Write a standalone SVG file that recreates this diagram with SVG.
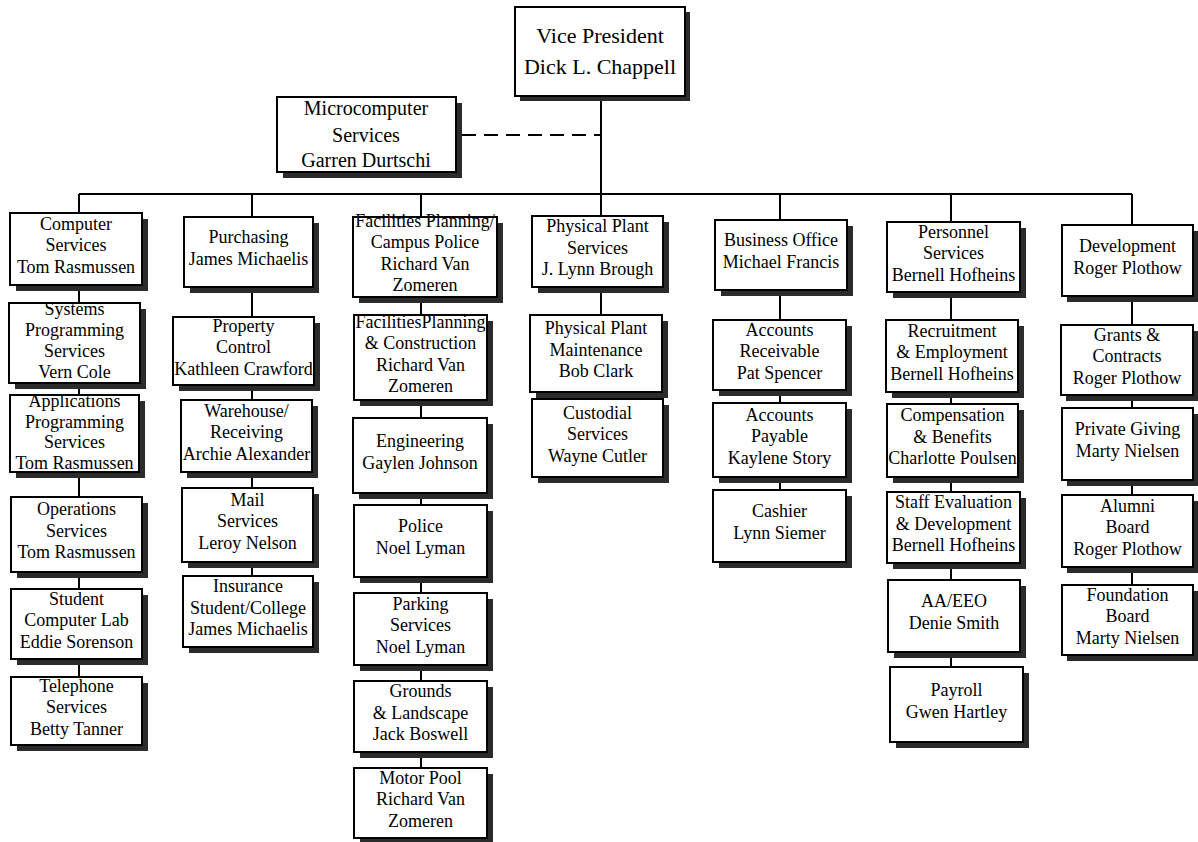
<svg xmlns="http://www.w3.org/2000/svg" width="1198" height="842" viewBox="0 0 1198 842">
<style>
.sh{fill:#2b2b2b}
.bx{fill:#fff;stroke:#000;stroke-width:2}
text{font-family:"Liberation Serif","Times New Roman",serif;font-size:18px;fill:#000;text-anchor:middle}
.big{font-size:22px}
.mid{font-size:20px}
.ln{stroke:#000;stroke-width:2;fill:none}
.dash{stroke:#000;stroke-width:2;fill:none;stroke-dasharray:14 8}
</style>
<rect width="1198" height="842" fill="#fff"/>
<g id="connectors">
<line class="ln" x1="601" y1="96" x2="601" y2="399"/>
<line class="dash" x1="462" y1="135" x2="601" y2="135"/>
<line class="ln" x1="79" y1="194" x2="1132" y2="194"/>
<line class="ln" x1="79" y1="194" x2="79" y2="677"/>
<line class="ln" x1="252" y1="194" x2="252" y2="576"/>
<line class="ln" x1="421" y1="194" x2="421" y2="768"/>
<line class="ln" x1="780" y1="194" x2="780" y2="490"/>
<line class="ln" x1="951" y1="194" x2="951" y2="667"/>
<line class="ln" x1="1132" y1="194" x2="1132" y2="585"/>
</g>
<g id="vp"><rect class="sh" x="520" y="12" width="170" height="89"/><rect class="bx" x="515" y="7" width="170" height="89"/><text class="big" x="600" y="43">Vice President</text><text class="big" x="600" y="74">Dick L. Chappell</text></g>
<g id="micro"><rect class="sh" x="283" y="103" width="179" height="75"/><rect class="bx" x="277" y="97" width="179" height="75"/><text class="mid" x="366" y="115">Microcomputer</text><text class="mid" x="366" y="142">Services</text><text class="mid" x="366" y="167">Garren Durtschi</text></g>

<g id="cs"><rect class="sh" x="16" y="219" width="132" height="72"/><rect class="bx" x="10" y="213" width="132" height="72"/><text x="76" y="229.5">Computer</text><text x="76" y="251">Services</text><text x="76" y="272.5">Tom Rasmussen</text></g>
<g id="sps"><rect class="sh" x="15" y="309" width="131" height="80"/><rect class="bx" x="9" y="303" width="131" height="80"/><text x="74.5" y="315">Systems</text><text x="74.5" y="336">Programming</text><text x="74.5" y="357">Services</text><text x="74.5" y="378">Vern Cole</text></g>
<g id="aps"><rect class="sh" x="16" y="401" width="129" height="77"/><rect class="bx" x="10" y="395" width="129" height="77"/><text x="74.5" y="407">Applications</text><text x="74.5" y="427.5">Programming</text><text x="74.5" y="448">Services</text><text x="74.5" y="468.5">Tom Rasmussen</text></g>
<g id="ops"><rect class="sh" x="17" y="503" width="131" height="75"/><rect class="bx" x="11" y="497" width="131" height="75"/><text x="76.5" y="515">Operations</text><text x="76.5" y="536.5">Services</text><text x="76.5" y="558">Tom Rasmussen</text></g>
<g id="scl"><rect class="sh" x="17" y="595" width="131" height="70"/><rect class="bx" x="11" y="589" width="131" height="70"/><text x="76.5" y="604.5">Student</text><text x="76.5" y="626">Computer Lab</text><text x="76.5" y="647.5">Eddie Sorenson</text></g>
<g id="tel"><rect class="sh" x="17" y="683" width="131" height="68"/><rect class="bx" x="11" y="677" width="131" height="68"/><text x="76.5" y="691.5">Telephone</text><text x="76.5" y="713">Services</text><text x="76.5" y="734.5">Betty Tanner</text></g>

<g id="pur"><rect class="sh" x="190" y="223" width="129" height="70"/><rect class="bx" x="184" y="217" width="129" height="70"/><text x="248.5" y="243">Purchasing</text><text x="248.5" y="265">James Michaelis</text></g>
<g id="prop"><rect class="sh" x="179" y="323" width="141" height="68"/><rect class="bx" x="173" y="317" width="141" height="68"/><text x="243.5" y="331.5">Property</text><text x="243.5" y="353">Control</text><text x="243.5" y="374.5">Kathleen Crawford</text></g>
<g id="wh"><rect class="sh" x="187" y="406" width="131" height="72"/><rect class="bx" x="181" y="400" width="131" height="72"/><text x="246.5" y="416.5">Warehouse/</text><text x="246.5" y="438">Receiving</text><text x="246.5" y="459.5">Archie Alexander</text></g>
<g id="mail"><rect class="sh" x="188" y="494" width="131" height="74"/><rect class="bx" x="182" y="488" width="131" height="74"/><text x="247.5" y="505.5">Mail</text><text x="247.5" y="527">Services</text><text x="247.5" y="548.5">Leroy Nelson</text></g>
<g id="ins"><rect class="sh" x="189" y="582" width="130" height="71"/><rect class="bx" x="183" y="576" width="130" height="71"/><text x="248" y="592">Insurance</text><text x="248" y="613.5">Student/College</text><text x="248" y="635">James Michaelis</text></g>

<g id="fpcp"><rect class="sh" x="359" y="223" width="144" height="80"/><rect class="bx" x="353" y="217" width="144" height="80"/><text x="425" y="227">Facilities Planning/</text><text x="425" y="248">Campus Police</text><text x="425" y="270">Richard Van</text><text x="425" y="291">Zomeren</text></g>
<g id="fpc"><rect class="sh" x="360" y="321" width="133" height="85"/><rect class="bx" x="354" y="315" width="133" height="85"/><text x="420.5" y="327.5">FacilitiesPlanning</text><text x="420.5" y="348.5">&amp; Construction</text><text x="420.5" y="370.5">Richard Van</text><text x="420.5" y="391.5">Zomeren</text></g>
<g id="eng"><rect class="sh" x="359" y="424" width="134" height="75"/><rect class="bx" x="353" y="418" width="134" height="75"/><text x="420" y="446.5">Engineering</text><text x="420" y="468.5">Gaylen Johnson</text></g>
<g id="pol"><rect class="sh" x="360" y="511" width="133" height="72"/><rect class="bx" x="354" y="505" width="133" height="72"/><text x="420.5" y="532">Police</text><text x="420.5" y="554">Noel Lyman</text></g>
<g id="park"><rect class="sh" x="360" y="599" width="133" height="72"/><rect class="bx" x="354" y="593" width="133" height="72"/><text x="420.5" y="609.5">Parking</text><text x="420.5" y="631">Services</text><text x="420.5" y="652.5">Noel Lyman</text></g>
<g id="grd"><rect class="sh" x="360" y="687" width="133" height="71"/><rect class="bx" x="354" y="681" width="133" height="71"/><text x="420.5" y="697">Grounds</text><text x="420.5" y="718.5">&amp; Landscape</text><text x="420.5" y="740">Jack Boswell</text></g>
<g id="mp"><rect class="sh" x="360" y="774" width="133" height="68"/><rect class="bx" x="354" y="768" width="133" height="70"/><text x="420.5" y="783.5">Motor Pool</text><text x="420.5" y="805">Richard Van</text><text x="420.5" y="826.5">Zomeren</text></g>

<g id="pps"><rect class="sh" x="538" y="222" width="131" height="71"/><rect class="bx" x="532" y="216" width="131" height="71"/><text x="597.5" y="232">Physical Plant</text><text x="597.5" y="253.5">Services</text><text x="597.5" y="275">J. Lynn Brough</text></g>
<g id="ppm"><rect class="sh" x="536" y="321" width="132" height="77"/><rect class="bx" x="530" y="315" width="132" height="77"/><text x="596" y="334">Physical Plant</text><text x="596" y="355.5">Maintenance</text><text x="596" y="377">Bob Clark</text></g>
<g id="cus"><rect class="sh" x="538" y="405" width="131" height="78"/><rect class="bx" x="532" y="399" width="131" height="78"/><text x="597.5" y="418.5">Custodial</text><text x="597.5" y="440">Services</text><text x="597.5" y="461.5">Wayne Cutler</text></g>

<g id="bo"><rect class="sh" x="721" y="226" width="132" height="70"/><rect class="bx" x="715" y="220" width="132" height="70"/><text x="781" y="246">Business Office</text><text x="781" y="268">Michael Francis</text></g>
<g id="ar"><rect class="sh" x="719" y="326" width="133" height="70"/><rect class="bx" x="713" y="320" width="133" height="70"/><text x="779.5" y="335.5">Accounts</text><text x="779.5" y="357">Receivable</text><text x="779.5" y="378.5">Pat Spencer</text></g>
<g id="ap"><rect class="sh" x="719" y="409" width="133" height="74"/><rect class="bx" x="713" y="403" width="133" height="74"/><text x="779.5" y="420.5">Accounts</text><text x="779.5" y="442">Payable</text><text x="779.5" y="463.5">Kaylene Story</text></g>
<g id="cash"><rect class="sh" x="719" y="496" width="133" height="72"/><rect class="bx" x="713" y="490" width="133" height="72"/><text x="779.5" y="517">Cashier</text><text x="779.5" y="539">Lynn Siemer</text></g>

<g id="ps"><rect class="sh" x="893" y="228" width="133" height="70"/><rect class="bx" x="887" y="222" width="133" height="70"/><text x="953.5" y="237.5">Personnel</text><text x="953.5" y="259">Services</text><text x="953.5" y="280.5">Bernell Hofheins</text></g>
<g id="rec"><rect class="sh" x="892" y="326" width="132" height="72"/><rect class="bx" x="886" y="320" width="132" height="72"/><text x="952" y="336.5">Recruitment</text><text x="952" y="358">&amp; Employment</text><text x="952" y="379.5">Bernell Hofheins</text></g>
<g id="comp"><rect class="sh" x="893" y="410" width="131" height="73"/><rect class="bx" x="887" y="404" width="131" height="73"/><text x="952.5" y="421">Compensation</text><text x="952.5" y="442.5">&amp; Benefits</text><text x="952.5" y="464">Charlotte Poulsen</text></g>
<g id="staff"><rect class="sh" x="893" y="498" width="133" height="71"/><rect class="bx" x="887" y="492" width="133" height="71"/><text x="953.5" y="508">Staff Evaluation</text><text x="953.5" y="529.5">&amp; Development</text><text x="953.5" y="551">Bernell Hofheins</text></g>
<g id="aa"><rect class="sh" x="894" y="586" width="132" height="72"/><rect class="bx" x="888" y="580" width="132" height="72"/><text x="954" y="607">AA/EEO</text><text x="954" y="629">Denie Smith</text></g>
<g id="pay"><rect class="sh" x="896" y="673" width="133" height="75"/><rect class="bx" x="890" y="667" width="133" height="75"/><text x="956.5" y="695.5">Payroll</text><text x="956.5" y="717.5">Gwen Hartley</text></g>

<g id="dev"><rect class="sh" x="1067" y="231" width="131" height="71"/><rect class="bx" x="1062" y="225" width="131" height="71"/><text x="1127.5" y="251.5">Development</text><text x="1127.5" y="273.5">Roger Plothow</text></g>
<g id="gc"><rect class="sh" x="1066" y="331" width="132" height="70"/><rect class="bx" x="1061" y="325" width="132" height="70"/><text x="1127" y="340.5">Grants &amp;</text><text x="1127" y="362">Contracts</text><text x="1127" y="383.5">Roger Plothow</text></g>
<g id="pg"><rect class="sh" x="1067" y="414" width="131" height="72"/><rect class="bx" x="1062" y="408" width="131" height="72"/><text x="1127.5" y="435">Private Giving</text><text x="1127.5" y="457">Marty Nielsen</text></g>
<g id="alum"><rect class="sh" x="1067" y="501" width="131" height="72"/><rect class="bx" x="1062" y="495" width="131" height="72"/><text x="1127.5" y="511.5">Alumni</text><text x="1127.5" y="533">Board</text><text x="1127.5" y="554.5">Roger Plothow</text></g>
<g id="fb"><rect class="sh" x="1067" y="591" width="131" height="70"/><rect class="bx" x="1062" y="585" width="131" height="70"/><text x="1127.5" y="600.5">Foundation</text><text x="1127.5" y="622">Board</text><text x="1127.5" y="643.5">Marty Nielsen</text></g>
</svg>
